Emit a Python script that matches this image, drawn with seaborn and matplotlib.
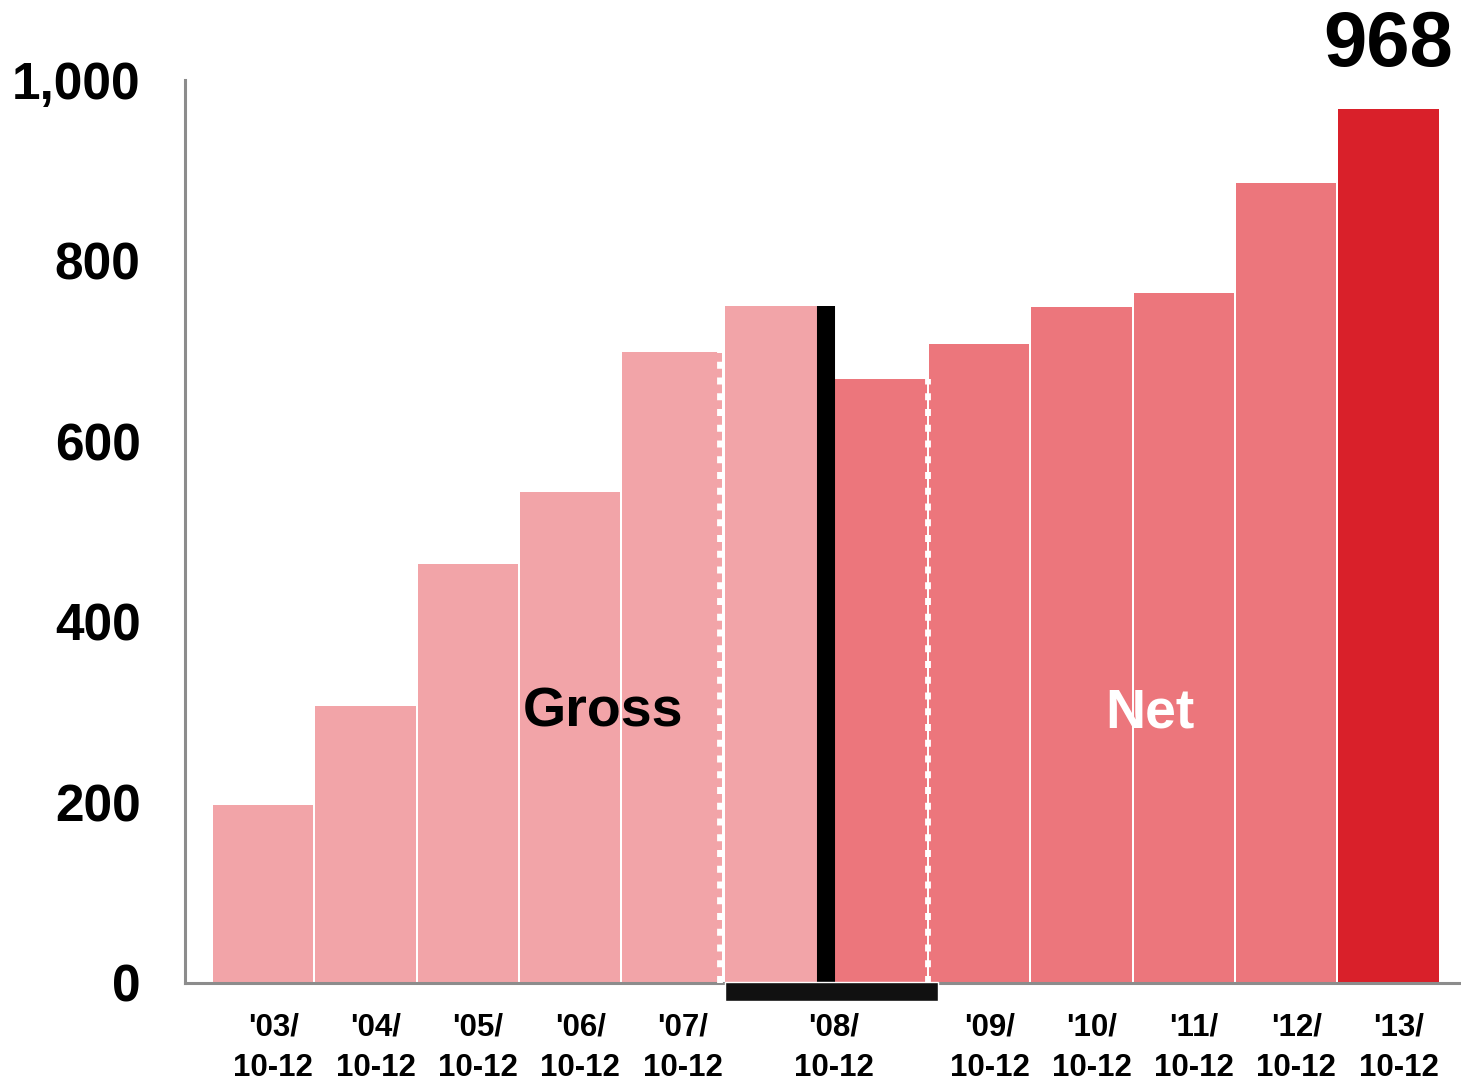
import matplotlib
matplotlib.use("Agg")
import matplotlib.pyplot as plt
import seaborn as sns
import pandas as pd

# Periods (Oct-Dec quarter of each year)
periods = ["'03", "'04", "'05", "'06", "'07", "'08", "'09", "'10", "'11", "'12", "'13"]
# Gross basis: '03 through '08
gross_values = [197, 307, 464, 544, 699, 750]
# Net basis: '08 through '13
net_values = [669, 708, 749, 764, 886, 968]
y_ticks = [0, 200, 400, 600, 800, 1000]

LIGHT = "#F2A4A8"
MID = "#EC767C"
RED = "#D9202A"

# One row per bar; '08 appears twice (gross and net)
bar_keys = [p + " gross" for p in periods[:6]] + [p + " net" for p in periods[5:]]
values = gross_values + net_values
groups = ["Gross"] * len(gross_values) + ["Net"] * (len(net_values) - 1) + ["Latest"]
df = pd.DataFrame({"bar": bar_keys, "value": values, "group": groups})

sns.set_theme(style="white")
plt.rcParams["font.family"] = ["Liberation Sans", "DejaVu Sans"]
plt.rcParams["font.weight"] = "bold"
plt.rcParams["text.color"] = "black"
plt.rcParams["xtick.color"] = "black"
plt.rcParams["ytick.color"] = "black"

fig = plt.figure(figsize=(14.61, 10.8), dpi=100)
ax = fig.add_axes([185 / 1461, 97 / 1080, 1276 / 1461, 903 / 1080])

sns.barplot(data=df, x="bar", y="value", hue="group", order=bar_keys,
            palette={"Gross": LIGHT, "Net": MID, "Latest": RED},
            width=0.98, saturation=1, legend=False, ax=ax, linewidth=0)

i_g08 = 5          # '08 gross bar
i_n08 = 6          # '08 net bar

# Divider between the gross and net bases for '08
ax.vlines(i_g08 + 0.5, 0, gross_values[-1], color="black", lw=13, zorder=4)
# Black bracket under the '08 pair
ax.bar((i_g08 - 0.485 + i_n08 + 0.6) / 2, -21, width=(i_n08 + 0.6) - (i_g08 - 0.485),
       bottom=1.5, color="#111111", clip_on=False, zorder=5)

# White dotted separators either side of '08
dots = [(0, (1.2, 1.5))]
ax.vlines(i_g08 - 0.53, 0, min(gross_values[4], gross_values[5]), color="white",
          lw=4.2, linestyles=dots, zorder=3)
ax.vlines(i_n08 + 0.5, 0, min(net_values[0], net_values[1]), color="white",
          lw=4.2, linestyles=dots, zorder=3)

ax.set_xlim(-0.764, 11.709)
ax.set_ylim(0, 1000)

ax.set_yticks(y_ticks)
ax.set_yticklabels([f"{v:,}" for v in y_ticks], fontsize=37, fontweight="bold",
                   color="black")

# Period labels: '08 sits between its two bars
tick_pos = [i + 0.1 for i in range(5)] + [5.58] + [i + 0.1 for i in range(7, 12)]
ax.set_xticks(tick_pos)
ax.set_xticklabels([p + "/\n10-12" for p in periods], fontsize=22.5, fontweight="bold",
                   linespacing=1.45, color="black")
ax.tick_params(axis="both", length=0)
ax.tick_params(axis="y", pad=32)
ax.tick_params(axis="x", pad=21)
ax.set_xlabel("")
ax.set_ylabel("")

for s in ["top", "right"]:
    ax.spines[s].set_visible(False)
for s in ["left", "bottom"]:
    ax.spines[s].set_color("#8c8c8c")
    ax.spines[s].set_linewidth(2.2)

ax.text(3.32, 300, "Gross", ha="center", va="center", fontsize=40,
        fontweight="bold", color="black", zorder=6)
ax.text(8.67, 298, "Net", ha="center", va="center", fontsize=40,
        fontweight="bold", color="white", zorder=6)
ax.text(11, net_values[-1] + 47, f"{net_values[-1]}", ha="center", va="baseline",
        fontsize=56, fontweight="bold", color="black", clip_on=False)

fig.savefig("out.png", dpi=100, facecolor="white")
